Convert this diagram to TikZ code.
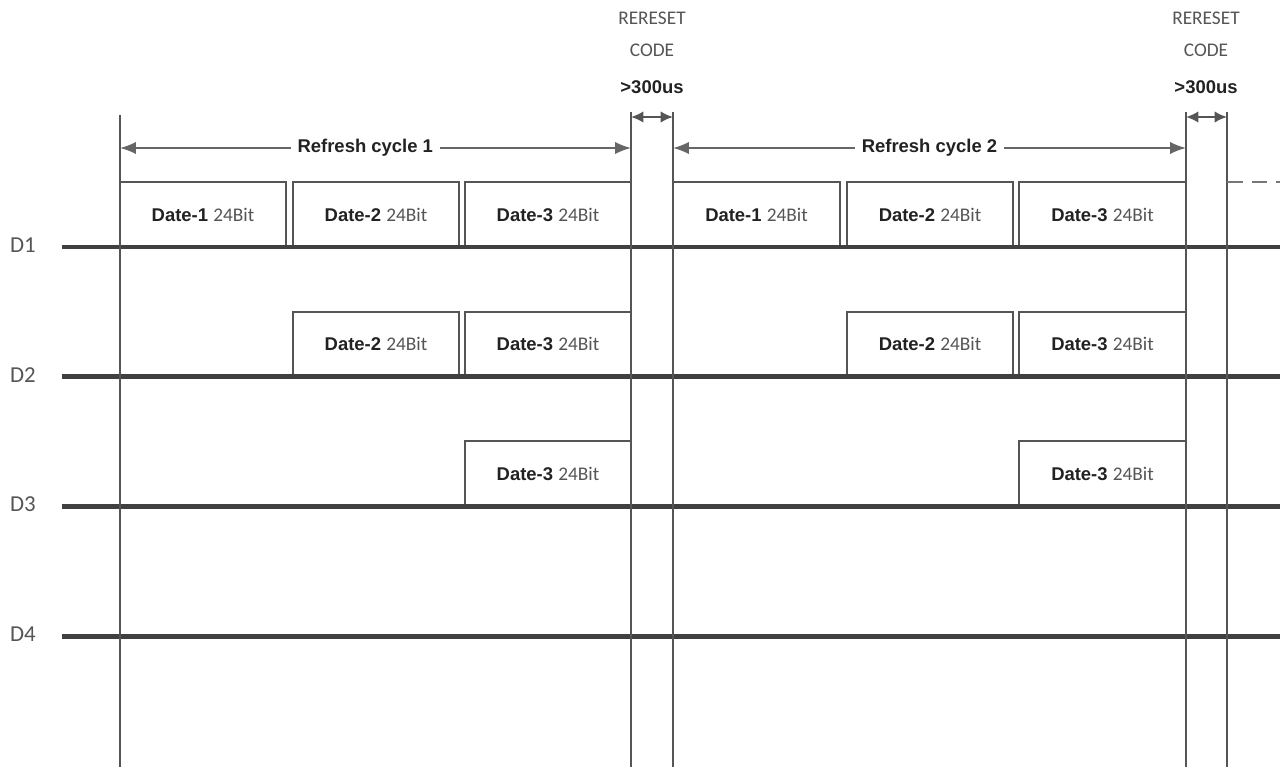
\documentclass[tikz,border=0pt]{standalone}
\usepackage{fontspec}
\setmainfont{Liberation Sans}
\newfontfamily\narrowfont{Carlito}
\usetikzlibrary{positioning, arrows.meta}

\definecolor{wire}{HTML}{404040}
\definecolor{edge}{HTML}{555555}
\definecolor{ink}{HTML}{222222}
\definecolor{soft}{HTML}{555555}

\tikzset{
    signal/.style={draw=wire, line width=2.8pt},
    marker/.style={draw=edge, line width=1.1pt},
    pulse/.style={draw=edge, line width=1.1pt, inner sep=0pt, outer sep=0pt,
        minimum height=1.3cm, anchor=south west, text=ink,
        font=\fontsize{10.5}{12}\selectfont},
    span/.style={draw=edge!90, line width=1.1pt,
        {Latex[length=9pt,width=7pt]}-{Latex[length=9pt,width=7pt]}},
    gap/.style={draw=edge, line width=1.1pt,
        {Latex[length=7pt,width=6.5pt]}-{Latex[length=7pt,width=6.5pt]}},
    spanlabel/.style={fill=white, inner xsep=4pt, text=ink,
        font=\fontsize{10.5}{12}\selectfont\bfseries},
    resetlabel/.style={text=soft, font=\fontsize{11}{13}\selectfont\narrowfont},
    linelabel/.style={text=soft, font=\fontsize{13}{15}\selectfont\narrowfont},
}

\begin{document}
\begin{tikzpicture}[x=0.02cm, y=-0.02cm]
    \useasboundingbox (0,0) rectangle (1280,767);

    % data words on each line: row / left / right / word
    \foreach \row/\l/\r/\n in {1/120/286/1, 1/293/459/2, 1/465/631/3,
                               1/673/840/1, 1/847/1013/2, 1/1019/1186/3,
                               2/293/459/2, 2/465/631/3, 2/847/1013/2, 2/1019/1186/3,
                               3/465/631/3, 3/1019/1186/3} {
        \pgfmathsetmacro\w{(\r-\l)*0.02}
        \pgfmathsetmacro\base{247+(\row-1)*129.7}
        \node[pulse, minimum width=\w cm] (p\row-\l) at (\l,\base)
            {\textbf{Date-\n}\ {\narrowfont\fontsize{11}{12}\selectfont\color{soft}24Bit}};
    }

    % signal lines
    \foreach \row in {1,...,4} {
        \pgfmathsetmacro\base{247+(\row-1)*129.7}
        \coordinate (s\row) at (62,\base);
        \coordinate (e\row) at (1280,\base);
        \node[linelabel, anchor=east] (d\row) at (42,\base-2) {D\row};
        \draw[signal] (s\row) -- (e\row);
    }

    % time markers
    \coordinate (m0) at (120,115);
    \coordinate (m1) at (631,112);
    \coordinate (m2) at (673,112);
    \coordinate (m3) at (1186,112);
    \coordinate (m4) at (1227,112);
    \foreach \m in {0,...,4} {
        \draw[marker] (m\m) -- (m\m |- 0,767);
    }

    % refresh cycles
    \draw[span] (m0 |- 0,148) -- (m1 |- 0,148)
        node[spanlabel, pos=0.48] (cycle1) {Refresh cycle 1};
    \draw[span] (m2 |- 0,148) -- (m3 |- 0,148)
        node[spanlabel, midway] (cycle2) {Refresh cycle 2};

    % reset gaps
    \draw[gap] (m1 |- 0,117) -- (m2 |- 0,117);
    \draw[gap] (m3 |- 0,117) -- (m4 |- 0,117);
    \foreach \x/\k in {652/a, 1206/b} {
        \node[resetlabel] (reset\k) at (\x,18) {RERESET};
        \node[resetlabel] (code\k) at (\x,50) {CODE};
        \node[spanlabel, fill=none] (time\k) at (\x,87) {>300us};
    }

    % next cycle
    \draw[marker, dashed, dash pattern=on 9pt off 5pt, draw=edge!80] (m4 |- 0,182) -- (1280,182);
\end{tikzpicture}
\end{document}
